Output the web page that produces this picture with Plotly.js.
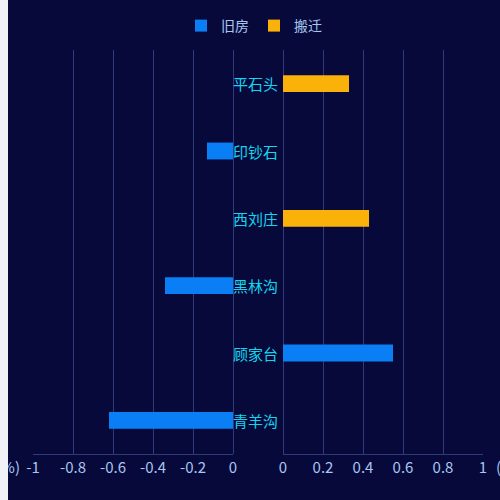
<!DOCTYPE html>
<html>
<head>
<meta charset="utf-8">
<script src="https://cdn.plot.ly/plotly-3.0.1.min.js"></script>
<style>
  html, body { margin: 0; padding: 0; background: #f0f2f7; }
  #chart { position: absolute; left: 8px; top: 0; width: 492px; height: 500px; }
</style>
</head>
<body>
<div id="chart"></div>
<script>
// villages, top to bottom
var villages = ['平石头', '印钞石', '西刘庄', '黑林沟', '顾家台', '青羊沟'];
// change ratio per village
var oldHouse = [null, -0.13, null, -0.34, 0.55, -0.62];
var relocate = [0.33, null, 0.43, null, null, null];
var leftTicks = [-1, -0.8, -0.6, -0.4, -0.2, 0];
var rightTicks = [0, 0.2, 0.4, 0.6, 0.8, 1];

var blue = '#0a7ff5';
var orange = '#fab10a';
var tickColor = '#a8c6f0';
var gridColor = '#2f3b7a';
var fontFamily = '"Noto Sans CJK SC", "Noto Sans", sans-serif';

function neg(v) { return (v !== null && v < 0) ? v : null; }
function pos(v) { return (v !== null && v >= 0) ? v : null; }

var data = [
    {
        name: '旧房', type: 'bar', orientation: 'h',
        y: villages, x: oldHouse.map(neg),
        xaxis: 'x', yaxis: 'y', width: 0.25,
        marker: { color: blue }, legendgroup: 'old'
    },
    {
        name: '旧房', type: 'bar', orientation: 'h',
        y: villages, x: oldHouse.map(pos),
        xaxis: 'x2', yaxis: 'y', width: 0.25,
        marker: { color: blue }, legendgroup: 'old', showlegend: false
    },
    {
        name: '搬迁', type: 'bar', orientation: 'h',
        y: villages, x: relocate.map(pos),
        xaxis: 'x2', yaxis: 'y', width: 0.25,
        marker: { color: orange }, legendgroup: 'move'
    }
];

var labels = villages.map(function(v) {
    return {
        xref: 'x', yref: 'y', x: 0, y: v, xshift: -2,
        text: v, showarrow: false, xanchor: 'left',
        font: { color: '#12d6ee', size: 15, family: fontFamily }
    };
});
// axis units, partly cut at the chart edges as in the original
labels.push({
    xref: 'paper', yref: 'paper', x: -11 / 450, y: -12 / 404,
    text: '(%)', showarrow: false, xanchor: 'right', yanchor: 'middle',
    font: { color: tickColor, size: 15, family: fontFamily }
});
labels.push({
    xref: 'paper', yref: 'paper', x: 461 / 450, y: -12 / 404,
    text: '(%)', showarrow: false, xanchor: 'left', yanchor: 'middle',
    font: { color: tickColor, size: 15, family: fontFamily }
});

var axisStyle = {
    showgrid: true, gridcolor: gridColor, gridwidth: 1,
    zeroline: true, zerolinecolor: gridColor, zerolinewidth: 1,
    showline: true, linecolor: gridColor, linewidth: 1,
    ticks: '', tickfont: { color: tickColor, size: 15, family: fontFamily },
    fixedrange: true
};

var layout = {
    width: 492, height: 500,
    paper_bgcolor: '#07093b',
    plot_bgcolor: 'rgba(0,0,0,0)',
    margin: { l: 25, r: 17, t: 50, b: 46 },
    barmode: 'overlay',
    showlegend: true,
    legend: {
        orientation: 'h', x: 0.5, xanchor: 'center', xref: 'container',
        y: 1 - 26 / 500, yanchor: 'middle', yref: 'container',
        font: { color: tickColor, size: 14, family: fontFamily },
        bgcolor: 'rgba(0,0,0,0)', itemwidth: 30, tracegroupgap: 0
    },
    xaxis: Object.assign({}, axisStyle, {
        domain: [0, 200 / 450], range: [-1, 0],
        tickvals: leftTicks, ticktext: leftTicks.map(String)
    }),
    xaxis2: Object.assign({}, axisStyle, {
        domain: [250 / 450, 1], range: [0, 1], anchor: 'y',
        tickvals: rightTicks, ticktext: rightTicks.map(String)
    }),
    yaxis: {
        categoryorder: 'array', categoryarray: villages,
        autorange: 'reversed', showticklabels: false,
        showgrid: false, zeroline: false, showline: false, fixedrange: true
    },
    annotations: labels
};

Plotly.newPlot('chart', data, layout, { displayModeBar: false, staticPlot: true });
</script>
</body>
</html>
